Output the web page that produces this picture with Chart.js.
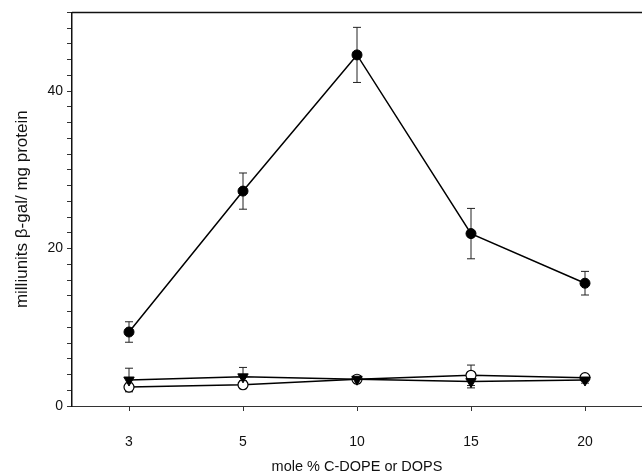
<!DOCTYPE html>
<html>
<head>
<meta charset="utf-8">
<script src="https://cdn.jsdelivr.net/npm/chart.js@4/dist/chart.umd.min.js"></script>
<style>
  html, body { margin: 0; padding: 0; background: #fff; }
  #wrap { width: 642px; height: 472px; }
</style>
</head>
<body>
<div id="wrap"><canvas id="c" width="642" height="472"></canvas></div>
<script>
// Lipid content (mole %) on the x axis
const categories = ['3', '5', '10', '15', '20'];

// beta-gal activity, milliunits / mg protein, with standard errors
const filledCircle = [9.4, 27.3, 44.6, 21.9, 15.6];
const filledCircleErr = [1.3, 2.3, 3.5, 3.2, 1.5];

const filledTriangle = [3.3, 3.7, 3.4, 3.1, 3.3];
const filledTriangleErr = [1.5, 1.2, 0.4, 0.8, 0.4];

const openCircle = [2.4, 2.7, 3.4, 3.9, 3.6];
const openCircleErr = [0.5, 0.5, 0.4, 1.3, 0.3];

const yTicksLabelled = [0, 20, 40];

const toPoints = arr => arr.map((v, i) => ({ x: i, y: v }));

// Vertical error bars with small caps, drawn from each dataset's err array
const errorBars = {
  id: 'errorBars',
  beforeDatasetsDraw(chart) {
    const { ctx, scales: { x, y } } = chart;
    ctx.save();
    ctx.strokeStyle = '#222';
    ctx.lineWidth = 1;
    chart.data.datasets.forEach(ds => {
      if (!ds.err) return;
      ds.data.forEach((p, i) => {
        const e = ds.err[i];
        const px = x.getPixelForValue(p.x);
        const yHi = y.getPixelForValue(p.y + e);
        const yLo = y.getPixelForValue(p.y - e);
        ctx.beginPath();
        ctx.moveTo(px, yHi); ctx.lineTo(px, yLo);
        ctx.moveTo(px - 4, yHi); ctx.lineTo(px + 4, yHi);
        ctx.moveTo(px - 4, yLo); ctx.lineTo(px + 4, yLo);
        ctx.stroke();
      });
    });
    ctx.restore();
  }
};

// Frame line along the top of the plotting area
const topFrame = {
  id: 'topFrame',
  afterDraw(chart) {
    const { ctx, chartArea: a } = chart;
    ctx.save();
    ctx.strokeStyle = '#111';
    ctx.lineWidth = 1.5;
    ctx.beginPath();
    ctx.moveTo(a.left, a.top);
    ctx.lineTo(chart.width, a.top);
    ctx.stroke();
    ctx.restore();
  }
};

const font = { family: 'Liberation Sans, Arial, sans-serif' };

new Chart(document.getElementById('c'), {
  type: 'line',
  data: {
    datasets: [
      {
        data: toPoints(filledCircle), err: filledCircleErr,
        borderColor: '#000', backgroundColor: '#000', borderWidth: 1.5,
        pointStyle: 'circle', pointRadius: 5, pointBorderWidth: 1,
        pointBackgroundColor: '#000', pointBorderColor: '#000',
        order: 1
      },
      {
        data: toPoints(openCircle), err: openCircleErr,
        borderColor: '#000', backgroundColor: '#fff', borderWidth: 1.5,
        pointStyle: 'circle', pointRadius: 5, pointBorderWidth: 1.2,
        pointBackgroundColor: '#fff', pointBorderColor: '#000',
        order: 3
      },
      {
        data: toPoints(filledTriangle), err: filledTriangleErr,
        borderColor: '#000', backgroundColor: '#000', borderWidth: 1.5,
        pointStyle: 'triangle', pointRotation: 180, pointRadius: 6, pointBorderWidth: 1,
        pointBackgroundColor: '#000', pointBorderColor: '#000',
        order: 2
      }
    ]
  },
  options: {
    responsive: false,
    animation: false,
    layout: { autoPadding: false, padding: { top: 12, right: 0, left: 0, bottom: 0 } },
    plugins: { legend: { display: false }, tooltip: { enabled: false } },
    scales: {
      x: {
        type: 'linear',
        min: -0.5, max: 4.5,
        afterBuildTicks: s => { s.ticks = categories.map((c, i) => ({ value: i })); },
        afterFit: s => { s.height = 66; s.paddingRight = 0; s.paddingLeft = 0; },
        ticks: {
          callback: v => categories[v],
          color: '#111', font: { ...font, size: 14 }, padding: 23, maxRotation: 0
        },
        grid: { drawOnChartArea: false, tickLength: 5, color: '#333' },
        border: { color: '#333', width: 1 },
        title: {
          display: true, text: 'mole % C-DOPE or DOPS',
          color: '#111', font: { ...font, size: 14.5 }, padding: { top: 0, bottom: -4 }
        }
      },
      y: {
        min: 0, max: 50,
        afterBuildTicks: s => {
          const t = [];
          for (let v = 0; v <= 50; v += 2) t.push({ value: v });
          s.ticks = t;
        },
        afterFit: s => { s.width = 72; },
        ticks: {
          autoSkip: false,
          callback: v => yTicksLabelled.includes(v) ? String(v) : '',
          color: '#111', font: { ...font, size: 14 }, padding: 4
        },
        grid: { drawOnChartArea: false, tickLength: 5, color: '#333' },
        border: { color: '#111', width: 1.5 },
        title: {
          display: true, text: 'milliunits β-gal/ mg protein',
          color: '#111', font: { ...font, size: 17 }, padding: { top: 12, bottom: 0 }
        }
      }
    }
  },
  plugins: [errorBars, topFrame]
});
</script>
</body>
</html>
